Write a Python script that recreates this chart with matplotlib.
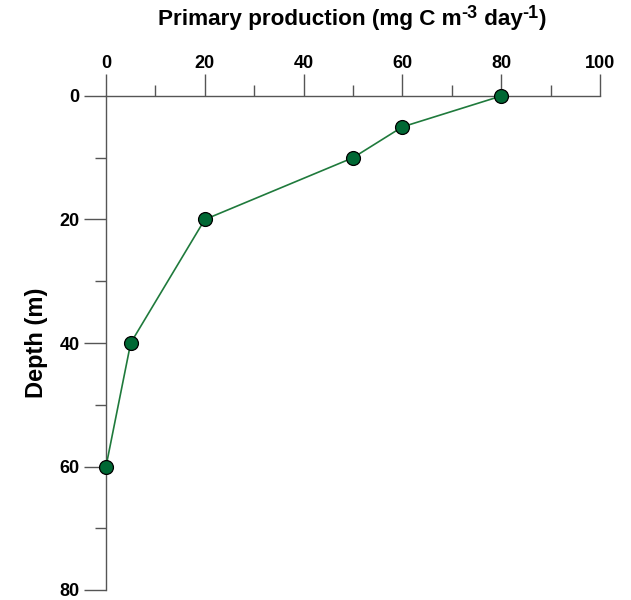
import matplotlib
matplotlib.use('Agg')
import matplotlib.pyplot as plt
from matplotlib.ticker import MultipleLocator

plt.rcParams['font.family'] = 'Liberation Sans'
plt.rcParams['font.weight'] = 'bold'

production = [80, 60, 50, 20, 5, 0]
depth = [0, 5, 10, 20, 40, 60]

W, H = 631, 600
fig = plt.figure(figsize=(W / 100, H / 100), dpi=100)
ax = fig.add_axes([106 / W, 1 - 590 / H, (600 - 106) / W, (590 - 96) / H])

ax.plot(production, depth, color='#1f7a3c', lw=1.2, marker='o', ms=10,
        mfc='#006834', mec='black', mew=0.9, zorder=3, clip_on=False)

ax.set_xlim(0, 100)
ax.set_ylim(80, 0)
ax.xaxis.set_major_locator(MultipleLocator(20))
ax.xaxis.set_minor_locator(MultipleLocator(10))
ax.yaxis.set_major_locator(MultipleLocator(20))
ax.yaxis.set_minor_locator(MultipleLocator(10))

ax.xaxis.tick_top()
for side in ['right', 'bottom']:
    ax.spines[side].set_visible(False)
ax.spines['top'].set_position(('data', 0))
for side in ['top', 'left']:
    ax.spines[side].set_color('#555555')
    ax.spines[side].set_linewidth(1.0)

ax.tick_params(which='major', length=16, width=1.0, color='#555555',
               labelsize=13)
ax.tick_params(which='minor', length=8, width=1.0, color='#555555')
ax.tick_params(axis='x', which='major', pad=1.5)
ax.tick_params(axis='y', which='major', pad=3)

ax.set_ylabel('Depth (m)', fontsize=17, fontweight='bold', labelpad=8)

# title on top, built from pieces so the superscripts stay large
pieces = [('Primary production (mg C m', 16.2, 0),
          ('-3', 13, 7),
          (' day', 16.2, 0),
          ('-1', 13, 7),
          (')', 16.2, 0)]
base_y = 25
texts = []
for s, size, raise_px in pieces:
    t = fig.text(0, 1 - (base_y - raise_px) / H, s, fontsize=size,
                 fontweight='bold', va='baseline', ha='left')
    texts.append(t)
fig.canvas.draw()
r = fig.canvas.get_renderer()
widths = [t.get_window_extent(r).width for t in texts]
x = 352 - sum(widths) / 2
for t, w in zip(texts, widths):
    t.set_x(x / W)
    x += w

fig.savefig('out.png', dpi=100)
